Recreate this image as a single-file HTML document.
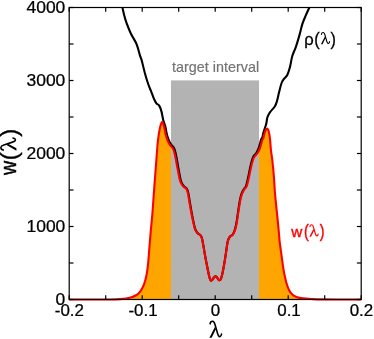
<!DOCTYPE html>
<html><head><meta charset="utf-8"><title>plot</title>
<style>
html,body{margin:0;padding:0;background:#fff;}
body{width:374px;height:339px;overflow:hidden;}
svg{display:block;font-family:"Liberation Sans",sans-serif;}
.ax line{stroke:#000;stroke-width:1.2;}
.tl text{font-size:15.6px;fill:#000;stroke:#000;stroke-width:0.25px;}
</style></head><body>
<svg width="374" height="339" viewBox="0 0 374 339">
<rect width="374" height="339" fill="#fff"/>
<path d="M69.20 299.50 C72.67 299.50 83.20 299.50 90.00 299.50 C96.80 299.50 105.00 299.57 110.00 299.50 C115.00 299.43 116.68 299.38 120.00 299.10 C123.32 298.82 127.15 298.48 129.90 297.80 C132.65 297.12 134.70 296.17 136.50 295.00 C138.30 293.83 139.45 292.58 140.70 290.80 C141.95 289.02 143.03 286.90 144.00 284.30 C144.97 281.70 145.82 278.65 146.50 275.20 C147.18 271.75 147.62 268.20 148.10 263.60 C148.58 259.00 148.97 252.90 149.40 247.60 C149.83 242.30 150.20 237.47 150.70 231.80 C151.20 226.13 151.88 219.90 152.40 213.60 C152.92 207.30 153.37 199.92 153.80 194.00 C154.23 188.08 154.53 184.33 155.00 178.10 C155.47 171.87 156.10 162.95 156.60 156.60 C157.10 150.25 157.45 144.73 158.00 140.00 C158.55 135.27 159.23 131.20 159.90 128.20 C160.57 125.20 161.32 122.28 162.00 122.00 C162.68 121.72 163.38 124.37 164.00 126.50 C164.62 128.63 165.13 132.55 165.70 134.80 C166.27 137.05 166.87 138.58 167.40 140.00 C167.93 141.42 168.40 142.37 168.90 143.30 C169.40 144.23 169.83 144.88 170.40 145.60 C170.97 146.32 171.75 146.83 172.30 147.60 C172.85 148.37 173.17 148.55 173.70 150.20 C174.23 151.85 174.82 154.22 175.50 157.50 C176.18 160.78 177.00 165.90 177.80 169.90 C178.60 173.90 179.40 178.75 180.30 181.50 C181.20 184.25 182.22 185.20 183.20 186.40 C184.18 187.60 185.42 187.55 186.20 188.70 C186.98 189.85 187.28 190.60 187.90 193.30 C188.52 196.00 189.15 200.75 189.90 204.90 C190.65 209.05 191.57 214.20 192.40 218.20 C193.23 222.20 194.07 226.42 194.90 228.90 C195.73 231.38 196.63 232.17 197.40 233.10 C198.17 234.03 198.80 233.77 199.50 234.50 C200.20 235.23 200.98 235.77 201.60 237.50 C202.22 239.23 202.65 241.98 203.20 244.90 C203.75 247.82 204.33 251.85 204.90 255.00 C205.47 258.15 206.02 260.85 206.60 263.80 C207.18 266.75 207.88 270.28 208.40 272.70 C208.92 275.12 209.37 277.08 209.70 278.30 C210.03 279.52 210.17 279.62 210.40 280.00 C210.63 280.38 210.85 280.57 211.10 280.60 C211.35 280.63 211.62 280.43 211.90 280.20 C212.18 279.97 212.42 279.72 212.80 279.20 C213.18 278.68 213.75 277.60 214.20 277.10 C214.65 276.60 215.07 276.20 215.50 276.20 C215.93 276.20 216.37 276.62 216.80 277.10 C217.23 277.58 217.77 278.63 218.10 279.10 C218.43 279.57 218.57 279.72 218.80 279.90 C219.03 280.08 219.25 280.22 219.50 280.20 C219.75 280.18 220.02 280.12 220.30 279.80 C220.58 279.48 220.82 279.48 221.20 278.30 C221.58 277.12 222.08 275.12 222.60 272.70 C223.12 270.28 223.73 267.08 224.30 263.80 C224.87 260.52 225.42 256.70 226.00 253.00 C226.58 249.30 227.17 244.27 227.80 241.60 C228.43 238.93 228.92 238.22 229.80 237.00 C230.68 235.78 232.17 235.65 233.10 234.30 C234.03 232.95 234.73 231.17 235.40 228.90 C236.07 226.63 236.55 223.87 237.10 220.70 C237.65 217.53 238.15 213.37 238.70 209.90 C239.25 206.43 239.85 202.58 240.40 199.90 C240.95 197.22 241.32 195.60 242.00 193.80 C242.68 192.00 243.73 190.33 244.50 189.10 C245.27 187.87 245.83 188.50 246.60 186.40 C247.37 184.30 248.27 180.08 249.10 176.50 C249.93 172.92 250.78 168.08 251.60 164.90 C252.42 161.72 253.03 159.33 254.00 157.40 C254.97 155.47 256.42 154.82 257.40 153.30 C258.38 151.78 259.08 150.52 259.90 148.30 C260.72 146.08 261.72 141.70 262.30 140.00 C262.88 138.30 262.97 139.43 263.40 138.10 C263.83 136.77 264.32 133.57 264.90 132.00 C265.48 130.43 266.30 128.92 266.90 128.70 C267.50 128.48 268.00 129.13 268.50 130.70 C269.00 132.27 269.48 134.78 269.90 138.10 C270.32 141.42 270.60 146.95 271.00 150.60 C271.40 154.25 271.82 155.68 272.30 160.00 C272.78 164.32 273.47 171.17 273.90 176.50 C274.33 181.83 274.47 186.65 274.90 192.00 C275.33 197.35 275.95 203.07 276.50 208.60 C277.05 214.13 277.70 219.95 278.20 225.20 C278.70 230.45 279.17 236.63 279.50 240.10 C279.83 243.57 279.85 243.35 280.20 246.00 C280.55 248.65 281.10 252.40 281.60 256.00 C282.10 259.60 282.65 264.15 283.20 267.60 C283.75 271.05 284.35 274.08 284.90 276.70 C285.45 279.32 285.82 281.10 286.50 283.30 C287.18 285.50 288.03 288.05 289.00 289.90 C289.97 291.75 291.05 293.23 292.30 294.40 C293.55 295.57 294.70 296.23 296.50 296.90 C298.30 297.57 300.33 298.03 303.10 298.40 C305.87 298.77 309.95 298.93 313.10 299.10 C316.25 299.27 317.52 299.33 322.00 299.40 C326.48 299.47 333.47 299.48 340.00 299.50 C346.53 299.52 357.67 299.50 361.20 299.50 L361.20 299.50 L69.20 299.50 Z" fill="#ffa500"/>
<rect x="171.0" y="80.4" width="88.0" height="219.1" fill="#b3b3b3"/>
<clipPath id="cp"><rect x="69.2" y="7.5" width="292.0" height="294.0"/></clipPath>
<g clip-path="url(#cp)"><path d="M121.70 5.50 C121.82 5.83 122.00 5.93 122.40 7.50 C122.80 9.07 123.40 12.28 124.10 14.90 C124.80 17.52 125.50 20.15 126.60 23.20 C127.70 26.25 129.18 30.02 130.70 33.20 C132.22 36.38 134.50 39.82 135.70 42.30 C136.90 44.78 137.18 45.88 137.90 48.10 C138.62 50.32 139.38 53.62 140.00 55.60 C140.62 57.58 140.78 57.07 141.60 60.00 C142.42 62.93 143.80 69.20 144.90 73.20 C146.00 77.20 147.10 80.82 148.20 84.00 C149.30 87.18 150.47 89.67 151.50 92.30 C152.53 94.93 153.55 97.92 154.40 99.80 C155.25 101.68 155.80 102.63 156.60 103.60 C157.40 104.57 158.38 104.27 159.20 105.60 C160.02 106.93 160.83 109.22 161.50 111.60 C162.17 113.98 162.58 117.48 163.20 119.90 C163.82 122.32 164.58 123.68 165.20 126.10 C165.82 128.52 166.33 132.15 166.90 134.40 C167.47 136.65 168.07 138.18 168.60 139.60 C169.13 141.02 169.60 141.97 170.10 142.90 C170.60 143.83 171.04 144.48 171.60 145.20 C172.16 145.92 172.91 146.45 173.44 147.22 C173.97 147.99 174.26 148.19 174.77 149.84 C175.27 151.50 175.83 153.88 176.48 157.17 C177.13 160.47 177.90 165.60 178.67 169.61 C179.43 173.62 180.19 178.49 181.05 181.25 C181.92 184.01 182.89 184.98 183.83 186.19 C184.78 187.40 185.97 187.37 186.72 188.53 C187.48 189.69 187.77 190.44 188.36 193.15 C188.96 195.85 189.57 200.61 190.30 204.77 C191.02 208.93 191.91 214.08 192.72 218.09 C193.53 222.10 194.34 226.32 195.16 228.81 C195.97 231.31 196.85 232.10 197.60 233.03 C198.35 233.97 198.97 233.71 199.65 234.45 C200.34 235.19 201.11 235.72 201.71 237.46 C202.32 239.20 202.75 241.95 203.29 244.87 C203.83 247.79 204.41 251.83 204.97 254.98 C205.53 258.13 206.07 260.83 206.65 263.78 C207.22 266.74 207.92 270.27 208.43 272.69 C208.94 275.11 209.39 277.08 209.72 278.29 C210.05 279.51 210.18 279.61 210.41 280.00 C210.65 280.38 210.86 280.56 211.11 280.60 C211.36 280.63 211.62 280.43 211.91 280.20 C212.19 279.96 212.42 279.72 212.80 279.20 C213.19 278.68 213.75 277.60 214.20 277.10 C214.65 276.60 215.07 276.20 215.50 276.20 C215.93 276.20 216.37 276.62 216.80 277.10 C217.23 277.58 217.76 278.63 218.09 279.10 C218.43 279.56 218.56 279.71 218.79 279.90 C219.02 280.08 219.24 280.21 219.49 280.20 C219.74 280.18 220.00 280.11 220.28 279.79 C220.57 279.48 220.80 279.48 221.18 278.29 C221.56 277.11 222.05 275.11 222.57 272.69 C223.08 270.27 223.69 267.07 224.25 263.78 C224.81 260.50 225.35 256.68 225.93 252.98 C226.50 249.27 227.08 244.24 227.70 241.57 C228.32 238.90 228.80 238.18 229.67 236.96 C230.53 235.73 231.99 235.59 232.90 234.23 C233.81 232.88 234.50 231.09 235.15 228.82 C235.80 226.54 236.27 223.77 236.80 220.60 C237.34 217.43 237.82 213.26 238.36 209.79 C238.89 206.31 239.47 202.46 240.01 199.77 C240.54 197.08 240.89 195.46 241.55 193.65 C242.22 191.84 243.23 190.17 243.97 188.92 C244.71 187.68 245.25 188.31 245.99 186.20 C246.73 184.09 247.59 179.86 248.39 176.26 C249.19 172.67 250.00 167.82 250.78 164.63 C251.56 161.43 252.15 159.04 253.07 157.09 C253.99 155.14 255.36 154.46 256.30 152.93 C257.24 151.40 257.90 150.12 258.70 147.90 C259.50 145.68 260.52 141.30 261.10 139.60 C261.68 137.90 261.77 139.03 262.20 137.70 C262.63 136.37 263.03 133.90 263.70 131.60 C264.37 129.30 265.58 126.28 266.20 123.90 C266.82 121.52 266.78 119.23 267.40 117.30 C268.02 115.37 268.67 114.10 269.90 112.30 C271.13 110.50 273.62 108.38 274.80 106.50 C275.98 104.62 276.28 103.40 277.00 101.00 C277.72 98.60 278.33 95.10 279.10 92.10 C279.87 89.10 280.78 85.20 281.60 83.00 C282.42 80.80 283.03 80.28 284.00 78.90 C284.97 77.52 286.42 76.63 287.40 74.70 C288.38 72.77 289.08 70.42 289.90 67.30 C290.72 64.18 291.32 59.37 292.30 56.00 C293.28 52.63 294.67 50.37 295.80 47.10 C296.93 43.83 298.00 40.27 299.10 36.40 C300.20 32.53 301.30 27.37 302.40 23.90 C303.50 20.43 304.60 18.22 305.70 15.60 C306.80 12.98 308.25 9.88 309.00 8.20 C309.75 6.52 310.00 5.95 310.20 5.50" fill="none" stroke="#000" stroke-width="2.1" stroke-linejoin="round" /></g>
<path d="M69.20 299.50 C72.67 299.50 83.20 299.50 90.00 299.50 C96.80 299.50 105.00 299.57 110.00 299.50 C115.00 299.43 116.68 299.38 120.00 299.10 C123.32 298.82 127.15 298.48 129.90 297.80 C132.65 297.12 134.70 296.17 136.50 295.00 C138.30 293.83 139.45 292.58 140.70 290.80 C141.95 289.02 143.03 286.90 144.00 284.30 C144.97 281.70 145.82 278.65 146.50 275.20 C147.18 271.75 147.62 268.20 148.10 263.60 C148.58 259.00 148.97 252.90 149.40 247.60 C149.83 242.30 150.20 237.47 150.70 231.80 C151.20 226.13 151.88 219.90 152.40 213.60 C152.92 207.30 153.37 199.92 153.80 194.00 C154.23 188.08 154.53 184.33 155.00 178.10 C155.47 171.87 156.10 162.95 156.60 156.60 C157.10 150.25 157.45 144.73 158.00 140.00 C158.55 135.27 159.23 131.20 159.90 128.20 C160.57 125.20 161.32 122.28 162.00 122.00 C162.68 121.72 163.38 124.37 164.00 126.50 C164.62 128.63 165.13 132.55 165.70 134.80 C166.27 137.05 166.87 138.58 167.40 140.00 C167.93 141.42 168.40 142.37 168.90 143.30 C169.40 144.23 169.83 144.88 170.40 145.60 C170.97 146.32 171.75 146.83 172.30 147.60 C172.85 148.37 173.17 148.55 173.70 150.20 C174.23 151.85 174.82 154.22 175.50 157.50 C176.18 160.78 177.00 165.90 177.80 169.90 C178.60 173.90 179.40 178.75 180.30 181.50 C181.20 184.25 182.22 185.20 183.20 186.40 C184.18 187.60 185.42 187.55 186.20 188.70 C186.98 189.85 187.28 190.60 187.90 193.30 C188.52 196.00 189.15 200.75 189.90 204.90 C190.65 209.05 191.57 214.20 192.40 218.20 C193.23 222.20 194.07 226.42 194.90 228.90 C195.73 231.38 196.63 232.17 197.40 233.10 C198.17 234.03 198.80 233.77 199.50 234.50 C200.20 235.23 200.98 235.77 201.60 237.50 C202.22 239.23 202.65 241.98 203.20 244.90 C203.75 247.82 204.33 251.85 204.90 255.00 C205.47 258.15 206.02 260.85 206.60 263.80 C207.18 266.75 207.88 270.28 208.40 272.70 C208.92 275.12 209.37 277.08 209.70 278.30 C210.03 279.52 210.17 279.62 210.40 280.00 C210.63 280.38 210.85 280.57 211.10 280.60 C211.35 280.63 211.62 280.43 211.90 280.20 C212.18 279.97 212.42 279.72 212.80 279.20 C213.18 278.68 213.75 277.60 214.20 277.10 C214.65 276.60 215.07 276.20 215.50 276.20 C215.93 276.20 216.37 276.62 216.80 277.10 C217.23 277.58 217.77 278.63 218.10 279.10 C218.43 279.57 218.57 279.72 218.80 279.90 C219.03 280.08 219.25 280.22 219.50 280.20 C219.75 280.18 220.02 280.12 220.30 279.80 C220.58 279.48 220.82 279.48 221.20 278.30 C221.58 277.12 222.08 275.12 222.60 272.70 C223.12 270.28 223.73 267.08 224.30 263.80 C224.87 260.52 225.42 256.70 226.00 253.00 C226.58 249.30 227.17 244.27 227.80 241.60 C228.43 238.93 228.92 238.22 229.80 237.00 C230.68 235.78 232.17 235.65 233.10 234.30 C234.03 232.95 234.73 231.17 235.40 228.90 C236.07 226.63 236.55 223.87 237.10 220.70 C237.65 217.53 238.15 213.37 238.70 209.90 C239.25 206.43 239.85 202.58 240.40 199.90 C240.95 197.22 241.32 195.60 242.00 193.80 C242.68 192.00 243.73 190.33 244.50 189.10 C245.27 187.87 245.83 188.50 246.60 186.40 C247.37 184.30 248.27 180.08 249.10 176.50 C249.93 172.92 250.78 168.08 251.60 164.90 C252.42 161.72 253.03 159.33 254.00 157.40 C254.97 155.47 256.42 154.82 257.40 153.30 C258.38 151.78 259.08 150.52 259.90 148.30 C260.72 146.08 261.72 141.70 262.30 140.00 C262.88 138.30 262.97 139.43 263.40 138.10 C263.83 136.77 264.32 133.57 264.90 132.00 C265.48 130.43 266.30 128.92 266.90 128.70 C267.50 128.48 268.00 129.13 268.50 130.70 C269.00 132.27 269.48 134.78 269.90 138.10 C270.32 141.42 270.60 146.95 271.00 150.60 C271.40 154.25 271.82 155.68 272.30 160.00 C272.78 164.32 273.47 171.17 273.90 176.50 C274.33 181.83 274.47 186.65 274.90 192.00 C275.33 197.35 275.95 203.07 276.50 208.60 C277.05 214.13 277.70 219.95 278.20 225.20 C278.70 230.45 279.17 236.63 279.50 240.10 C279.83 243.57 279.85 243.35 280.20 246.00 C280.55 248.65 281.10 252.40 281.60 256.00 C282.10 259.60 282.65 264.15 283.20 267.60 C283.75 271.05 284.35 274.08 284.90 276.70 C285.45 279.32 285.82 281.10 286.50 283.30 C287.18 285.50 288.03 288.05 289.00 289.90 C289.97 291.75 291.05 293.23 292.30 294.40 C293.55 295.57 294.70 296.23 296.50 296.90 C298.30 297.57 300.33 298.03 303.10 298.40 C305.87 298.77 309.95 298.93 313.10 299.10 C316.25 299.27 317.52 299.33 322.00 299.40 C326.48 299.47 333.47 299.48 340.00 299.50 C346.53 299.52 357.67 299.50 361.20 299.50" fill="none" stroke="#f00" stroke-width="2.1" stroke-linejoin="round"/>
<g class="ax">
<rect x="69.2" y="7.5" width="292.0" height="292.0" fill="none" stroke="#000" stroke-width="1.2"/>
<line x1="69.20" y1="299.50" x2="69.20" y2="295.20"/><line x1="69.20" y1="7.50" x2="69.20" y2="11.80"/><line x1="105.70" y1="299.50" x2="105.70" y2="295.20"/><line x1="105.70" y1="7.50" x2="105.70" y2="11.80"/><line x1="142.20" y1="299.50" x2="142.20" y2="295.20"/><line x1="142.20" y1="7.50" x2="142.20" y2="11.80"/><line x1="178.70" y1="299.50" x2="178.70" y2="295.20"/><line x1="178.70" y1="7.50" x2="178.70" y2="11.80"/><line x1="215.20" y1="299.50" x2="215.20" y2="295.20"/><line x1="215.20" y1="7.50" x2="215.20" y2="11.80"/><line x1="251.70" y1="299.50" x2="251.70" y2="295.20"/><line x1="251.70" y1="7.50" x2="251.70" y2="11.80"/><line x1="288.20" y1="299.50" x2="288.20" y2="295.20"/><line x1="288.20" y1="7.50" x2="288.20" y2="11.80"/><line x1="324.70" y1="299.50" x2="324.70" y2="295.20"/><line x1="324.70" y1="7.50" x2="324.70" y2="11.80"/><line x1="361.20" y1="299.50" x2="361.20" y2="295.20"/><line x1="361.20" y1="7.50" x2="361.20" y2="11.80"/><line x1="69.20" y1="299.50" x2="73.50" y2="299.50"/><line x1="361.20" y1="299.50" x2="356.90" y2="299.50"/><line x1="69.20" y1="263.00" x2="73.50" y2="263.00"/><line x1="361.20" y1="263.00" x2="356.90" y2="263.00"/><line x1="69.20" y1="226.50" x2="73.50" y2="226.50"/><line x1="361.20" y1="226.50" x2="356.90" y2="226.50"/><line x1="69.20" y1="190.00" x2="73.50" y2="190.00"/><line x1="361.20" y1="190.00" x2="356.90" y2="190.00"/><line x1="69.20" y1="153.50" x2="73.50" y2="153.50"/><line x1="361.20" y1="153.50" x2="356.90" y2="153.50"/><line x1="69.20" y1="117.00" x2="73.50" y2="117.00"/><line x1="361.20" y1="117.00" x2="356.90" y2="117.00"/><line x1="69.20" y1="80.50" x2="73.50" y2="80.50"/><line x1="361.20" y1="80.50" x2="356.90" y2="80.50"/><line x1="69.20" y1="44.00" x2="73.50" y2="44.00"/><line x1="361.20" y1="44.00" x2="356.90" y2="44.00"/><line x1="69.20" y1="7.50" x2="73.50" y2="7.50"/><line x1="361.20" y1="7.50" x2="356.90" y2="7.50"/>
</g>
<defs><g id="lam"><path d="M0.04 -0.83 C0.06 -0.95 0.13 -0.99 0.2 -0.985 C0.27 -0.98 0.3 -0.9 0.33 -0.8 L0.49 -0.25 C0.53 -0.1 0.58 -0.055 0.63 -0.065 C0.68 -0.075 0.71 -0.14 0.725 -0.22" fill="none" stroke-width="0.095" stroke-linecap="round"/><path d="M0.335 -0.66 L0.385 -0.5 L0.135 0 L0 0 Z" stroke="none"/></g><filter id="gs" filterUnits="userSpaceOnUse" x="0" y="0" width="374" height="339"><feOffset dx="0" dy="0"/></filter></defs>
<g filter="url(#gs)">
<g class="tl"><text transform="translate(65.3 305.40) scale(1.120 1)" text-anchor="end">0</text><text transform="translate(65.3 232.40) scale(1.120 1)" text-anchor="end">1000</text><text transform="translate(65.3 159.40) scale(1.120 1)" text-anchor="end">2000</text><text transform="translate(65.3 86.40) scale(1.120 1)" text-anchor="end">3000</text><text transform="translate(65.3 13.40) scale(1.120 1)" text-anchor="end">4000</text><text transform="translate(69.40 315.6) scale(1.085 1)" text-anchor="middle">-0.2</text><text transform="translate(143.00 315.6) scale(1.085 1)" text-anchor="middle">-0.1</text><text transform="translate(215.40 315.6) scale(1.085 1)" text-anchor="middle">0</text><text transform="translate(289.00 315.6) scale(1.085 1)" text-anchor="middle">0.1</text><text transform="translate(361.40 315.6) scale(1.085 1)" text-anchor="middle">0.2</text></g>
<text x="215.6" y="72" font-size="14.4" fill="#747474" stroke="#747474" stroke-width="0.2" text-anchor="middle" textLength="87" lengthAdjust="spacingAndGlyphs">target interval</text>
<!-- rho(lambda) -->
<g fill="#000" stroke="#000" stroke-width="0.3">
<text x="304.2" y="44.6" font-size="16.6">ρ</text>
<text transform="translate(314.3 45) scale(0.91 1)" font-size="17.9">(</text>
<text transform="translate(330.5 45) scale(0.91 1)" font-size="17.9">)</text>
</g>
<use href="#lam" transform="translate(320.9 44.3) scale(12)" fill="#000" stroke="#000"/>
<!-- w(lambda) red -->
<g fill="#f00" stroke="#f00" stroke-width="0.4">
<text x="291.3" y="236.5" font-size="15.3">w</text>
<text transform="translate(303.9 237.1) scale(0.8 1)" font-size="17.8">(</text>
<text transform="translate(319.7 237.1) scale(0.8 1)" font-size="17.8">)</text>
</g>
<use href="#lam" transform="translate(309.4 236.7) scale(12.1)" fill="#f00" stroke="#f00"/>
<!-- x label -->
<use href="#lam" transform="translate(209.4 337.7) scale(16.7)" fill="#000" stroke="#000"/>
<!-- y label -->
<g transform="translate(16.45 174.95) rotate(-90)" fill="#000" stroke="#000" stroke-width="0.4">
<text transform="scale(1.01 1.14)" font-size="19.4">w</text>
<text x="14.8" y="0.6" font-size="24">(</text>
<use href="#lam" transform="translate(24.2 0) scale(17.6 15.8)" stroke-width="1"/>
<text x="38.1" y="0.6" font-size="24">)</text>
</g>
</g>
</svg>
</body></html>
